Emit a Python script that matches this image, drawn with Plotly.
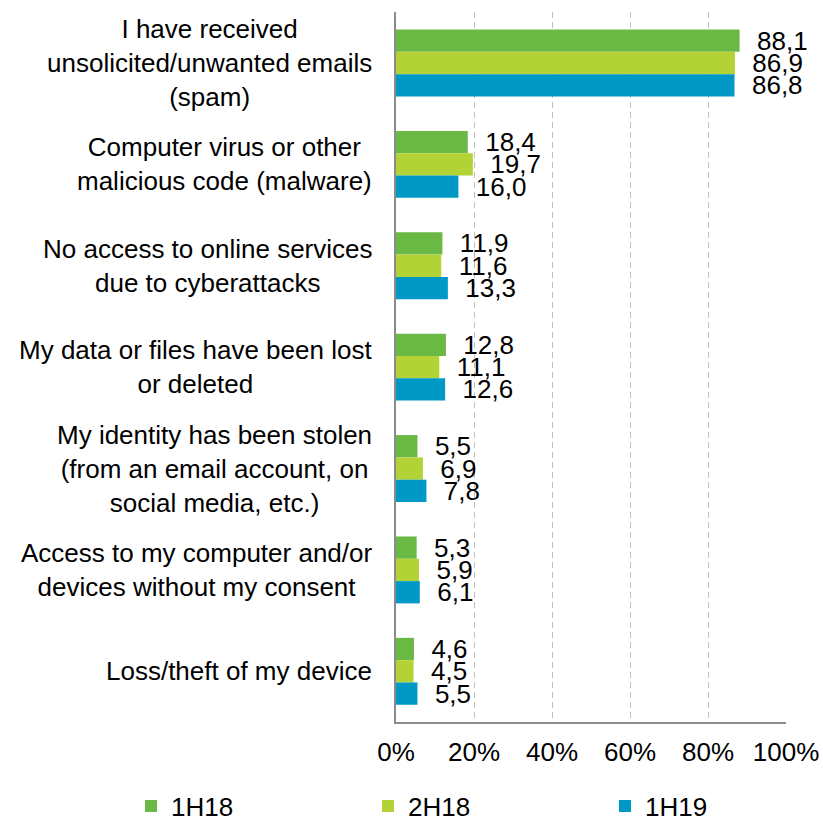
import plotly.graph_objects as go

# Security incidents reported by respondents, share of respondents (%)
categories = [
    "I have received<br>unsolicited/unwanted emails<br>(spam)",
    "Computer virus or other<br>malicious code (malware)",
    "No access to online services<br>due to cyberattacks",
    "My data or files have been lost<br>or deleted",
    "My identity has been stolen<br>(from an email account, on<br>social media, etc.)",
    "Access to my computer and/or<br>devices without my consent",
    "Loss/theft of my device",
]
series_names = ["1H18", "2H18", "1H19"]
values_1h18 = [88.1, 18.4, 11.9, 12.8, 5.5, 5.3, 4.6]
values_2h18 = [86.9, 19.7, 11.6, 11.1, 6.9, 5.9, 4.5]
values_1h19 = [86.8, 16.0, 13.3, 12.6, 7.8, 6.1, 5.5]
x_ticks = [0, 20, 40, 60, 80, 100]
x_tick_labels = ["0%", "20%", "40%", "60%", "80%", "100%"]

colors = ["#6AB944", "#B2D235", "#0099C6"]
legend_ids = ["legend", "legend2", "legend3"]
legend_left_px = [131, 368, 605]
font_family = "Liberation Sans, Arial, sans-serif"
font_size = 26
W, H = 823, 819

fig = go.Figure()
for name, vals, col, lg in zip(series_names, [values_1h18, values_2h18, values_1h19], colors, legend_ids):
    fig.add_trace(go.Bar(
        name=name,
        y=categories,
        x=vals,
        orientation="h",
        marker=dict(color=col, line=dict(width=0)),
        texttemplate="\u00a0\u00a0%{x:.1f}",
        textposition="outside",
        constraintext="none",
        cliponaxis=False,
        textfont=dict(size=font_size, color="#000000", family=font_family),
        hoverinfo="skip",
        legend=lg,
    ))

# Category labels, centred line by line, right of the axis block
for cat in categories:
    fig.add_annotation(
        xref="paper", yref="y", x=0, y=cat,
        text=cat, showarrow=False,
        xanchor="right", yanchor="middle", align="center",
        xshift=-22,
        font=dict(size=font_size, color="#000000", family=font_family),
    )

# One single-entry legend per series, spread along the bottom edge
legend_style = dict(
    orientation="h",
    xref="container", yref="container",
    xanchor="left", yanchor="middle",
    itemwidth=30,
    font=dict(size=font_size, family=font_family, color="#000000"),
    bgcolor="rgba(0,0,0,0)",
)
legend_layout = {}
for lg, left in zip(legend_ids, legend_left_px):
    legend_layout[lg] = dict(legend_style, x=left / W, y=1 - 806 / H)

fig.update_layout(
    width=W, height=H,
    margin=dict(l=396, r=37, t=12, b=97, autoexpand=False),
    paper_bgcolor="white", plot_bgcolor="white",
    barmode="group", bargap=0.34, bargroupgap=0,
    separators=", ",
    font=dict(family=font_family, size=font_size, color="#000000"),
    showlegend=True,
    xaxis=dict(
        range=[0, 100],
        tickmode="array",
        tickvals=x_ticks,
        ticktext=x_tick_labels,
        showgrid=True, gridcolor="#BFBFBF", griddash="6px,4px", gridwidth=1,
        zeroline=False,
        showline=True, linecolor="#8C8C8C", linewidth=2,
        ticks="", ticklabelstandoff=6,
        tickfont=dict(size=font_size, family=font_family, color="#000000"),
        automargin=False,
        fixedrange=True,
    ),
    yaxis=dict(
        autorange="reversed",
        showticklabels=False,
        showgrid=False, zeroline=False,
        showline=True, linecolor="#8C8C8C", linewidth=2,
        ticks="",
        automargin=False,
        fixedrange=True,
    ),
    **legend_layout,
)

fig.write_html("out.html")
